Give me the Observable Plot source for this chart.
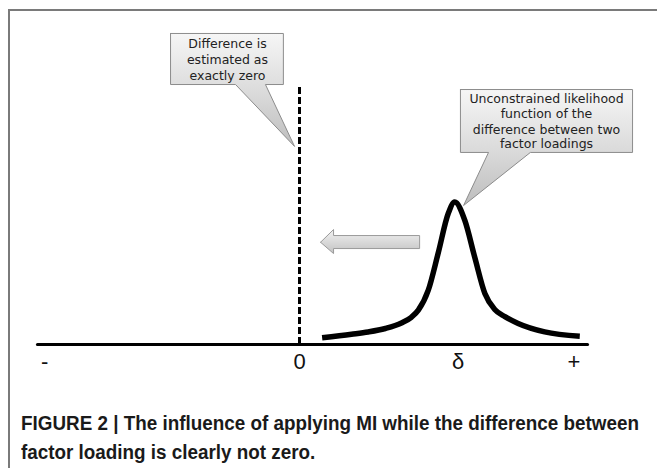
<!DOCTYPE html>
<html>
<head>
<meta charset="utf-8">
<script src="https://cdn.jsdelivr.net/npm/d3@7"></script>
<script src="https://cdn.jsdelivr.net/npm/@observablehq/plot@0.6"></script>
<style>
  html, body { margin: 0; padding: 0; background: #fff; }
  #wrap { position: relative; width: 657px; height: 468px; overflow: hidden; background: #fff; }
  #frame { position: absolute; left: 8px; top: 9px; right: -4px; bottom: -4px;
           border-left: 2px solid #7a7a7a; border-top: 2px solid #7a7a7a; }
  #chart { position: absolute; left: 0; top: 0; }
  #caption { position: absolute; left: 21px; top: 409px;
             font-family: "Liberation Sans", Arial, sans-serif;
             font-weight: bold; font-size: 20px; line-height: 29px; color: #1a1a1a; }
  #caption span { display: block; white-space: nowrap; transform-origin: 0 50%; }
</style>
</head>
<body>
<div id="wrap">
  <div id="frame"></div>
  <div id="chart"></div>
  <div id="caption"></div>
</div>
<script>
// ---- data (abstract units: x = difference, y = likelihood) ----
const curveX = [0.87, 2.0, 2.64, 3.3, 3.92, 4.3, 4.57, 4.95, 5.33, 5.72, 5.97, 6.36, 6.74, 7.13, 7.51, 7.9, 8.41, 9.43, 10.78];
const curveY = [0.047, 0.072, 0.088, 0.112, 0.150, 0.190, 0.240, 0.378, 0.636, 0.916, 0.997, 0.867, 0.610, 0.357, 0.245, 0.195, 0.147, 0.088, 0.058];

const tickLabels = ["-", "0", "δ", "+"];
const tickPos = [-9.8, 0, 6.1, 10.55];

const axisExtent = [-10.08, 11.08];
const estimateX = [0];
const estimateTop = 1.811;

const captionLines = [
  "FIGURE 2 | The influence of applying MI while the difference between",
  "factor loading is clearly not zero."
];

// callout 1: "estimated as exactly zero"
const callout1Text = ["Difference is", "estimated as", "exactly zero"];
const callout1TextX = -2.77;
const callout1TextY = [2.098, 1.993, 1.881];
const callout1X = [-4.96, -0.62, -0.62, -1.31, -0.19, -2.46, -4.96, -4.96];
const callout1Y = [2.175, 2.175, 1.818, 1.818, 1.385, 1.818, 1.818, 2.175];

// callout 2: unconstrained likelihood
const callout2Text = ["Unconstrained likelihood", "function of the", "difference between two", "factor loadings"];
const callout2TextX = 9.5;
const callout2TextY = [1.720, 1.615, 1.503, 1.399];
const callout2X = [6.19, 12.81, 12.81, 8.88, 6.31, 7.27, 6.19, 6.19];
const callout2Y = [1.783, 1.783, 1.343, 1.343, 0.972, 1.343, 1.343, 1.783];

// block arrow pointing toward zero
const arrowX = [0.81, 1.31, 1.31, 4.62, 4.62, 1.31, 1.31, 0.81];
const arrowY = [0.715, 0.804, 0.762, 0.762, 0.671, 0.671, 0.636, 0.715];

const zip = (xs, ys) => xs.map((x, i) => ({x, y: ys[i]}));

const defs = () => {
  const d = d3.create("svg:defs");
  const g1 = d.append("linearGradient").attr("id", "calloutGrad").attr("x1", 0).attr("y1", 0).attr("x2", 0).attr("y2", 1);
  g1.append("stop").attr("offset", "0%").attr("stop-color", "#f6f6f6");
  g1.append("stop").attr("offset", "55%").attr("stop-color", "#d9d9d9");
  g1.append("stop").attr("offset", "100%").attr("stop-color", "#bdbdbd");
  const g2 = d.append("linearGradient").attr("id", "arrowGrad").attr("x1", 0).attr("y1", 0).attr("x2", 0).attr("y2", 1);
  g2.append("stop").attr("offset", "0%").attr("stop-color", "#f2f2f2");
  g2.append("stop").attr("offset", "100%").attr("stop-color", "#c2c2c2");
  return d.node();
};

const calloutFont = "DejaVu Sans, Verdana, sans-serif";

const chart = Plot.plot({
  width: 657,
  height: 390,
  margin: 0,
  x: {domain: [-299 / 26, 358 / 26], range: [0, 657]},
  y: {domain: [0, 1], range: [344, 201]},
  axis: null,
  style: {background: "transparent", overflow: "visible"},
  marks: [
    defs,
    Plot.line(zip(axisExtent, [0, 0]), {x: "x", y: "y", stroke: "#000", strokeWidth: 3}),
    Plot.ruleX(estimateX, {y1: 0, y2: estimateTop, stroke: "#000", strokeWidth: 3, strokeDasharray: "7,3"}),
    Plot.line(zip(curveX, curveY), {x: "x", y: "y", stroke: "#000", strokeWidth: 5.5, curve: "monotone-x", strokeLinecap: "butt"}),
    Plot.line(zip(arrowX, arrowY), {x: "x", y: "y", fill: "url(#arrowGrad)", stroke: "#9a9a9a", strokeWidth: 1, curve: "linear"}),
    Plot.line(zip(callout1X, callout1Y), {x: "x", y: "y", fill: "url(#calloutGrad)", stroke: "#8c8c8c", strokeWidth: 1, curve: "linear"}),
    Plot.line(zip(callout2X, callout2Y), {x: "x", y: "y", fill: "url(#calloutGrad)", stroke: "#8c8c8c", strokeWidth: 1, curve: "linear"}),
    Plot.text(callout1Text, {x: () => callout1TextX, y: (d, i) => callout1TextY[i], text: d => d, fontFamily: calloutFont, fontSize: 12.5, fill: "#222"}),
    Plot.text(callout2Text, {x: () => callout2TextX, y: (d, i) => callout2TextY[i], text: d => d, fontFamily: calloutFont, fontSize: 12.5, fill: "#222"}),
    Plot.text(tickLabels, {x: (d, i) => tickPos[i], y: () => -0.12, text: d => d, fontFamily: "Liberation Sans, Arial, sans-serif", fontSize: 22, fill: "#111"})
  ]
});
document.getElementById("chart").appendChild(chart);

// caption: condensed bold lines, fitted to the reference width
const cap = document.getElementById("caption");
const spans = captionLines.map(t => {
  const s = document.createElement("span");
  s.textContent = t;
  cap.appendChild(s);
  return s;
});
const w0 = spans[0].getBoundingClientRect().width;
const k = 618 / w0;
spans.forEach(s => { s.style.transform = `scaleX(${k})`; });
</script>
</body>
</html>
